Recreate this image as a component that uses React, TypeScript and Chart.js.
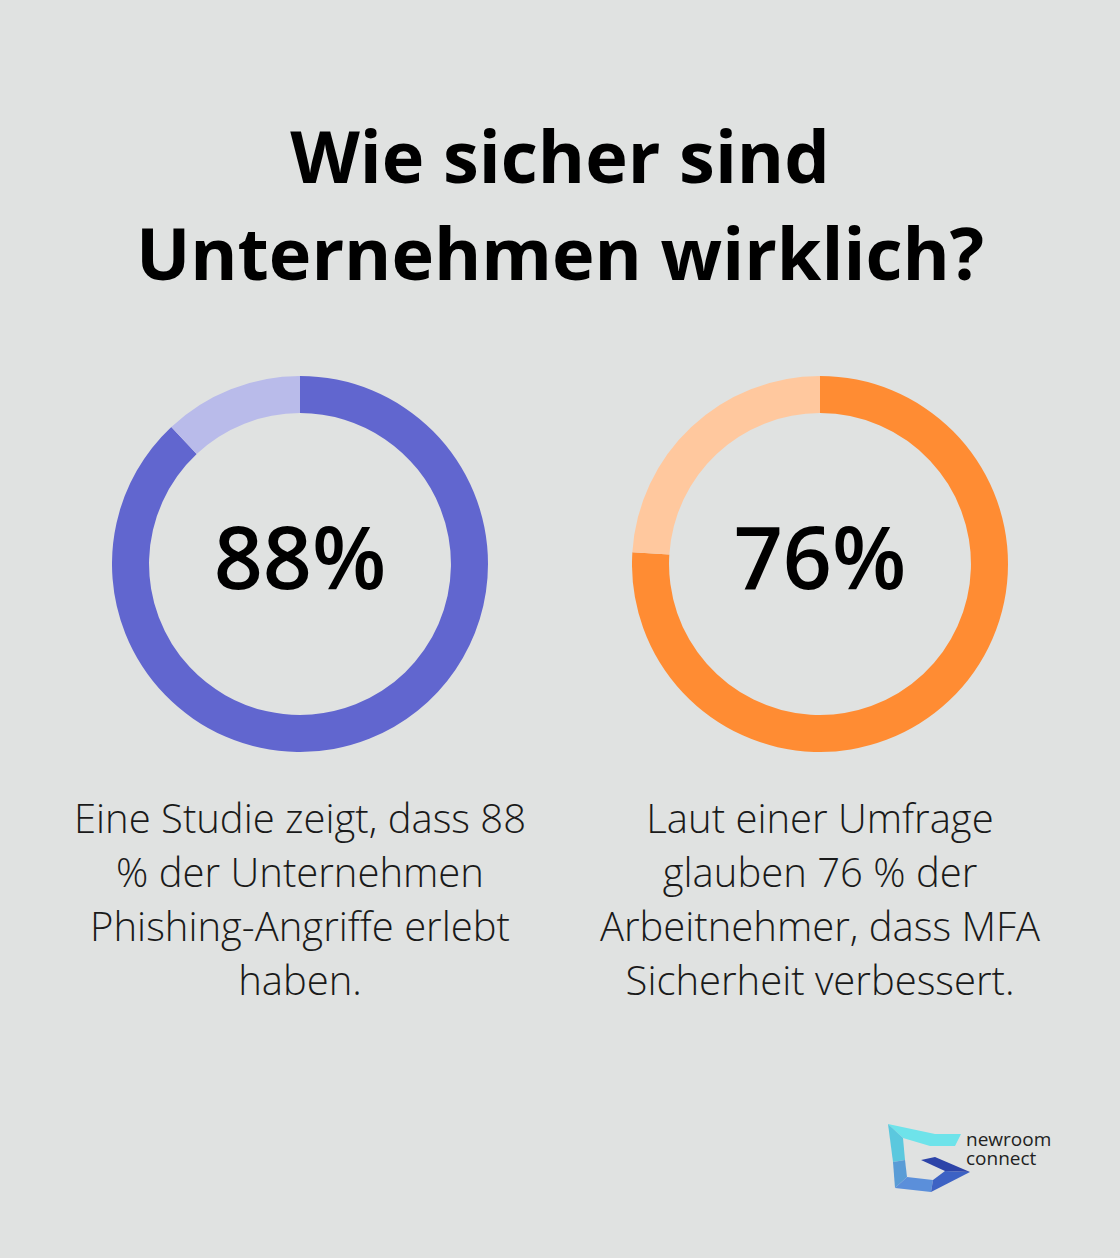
import React, { useEffect, useRef } from "react";
import { Chart, registerables } from "chart.js";

Chart.register(...registerables);

const TITLE_LINES = ["Wie sicher sind", "Unternehmen wirklich?"];
const CHART_LABELS = ["Ja", "Nein"];
const VALUES_A = [88, 12];
const VALUES_B = [76, 24];
const COLORS_A = ["#6166CF", "#B9BBEA"];
const COLORS_B = ["#FF8C33", "#FFC89E"];
const CENTER_A = "88%";
const CENTER_B = "76%";
const TEXT_A = ["Eine Studie zeigt, dass 88", "% der Unternehmen", "Phishing-Angriffe erlebt", "haben."];
const TEXT_B = ["Laut einer Umfrage", "glauben 76 % der", "Arbeitnehmer, dass MFA", "Sicherheit verbessert."];

const BG = "#E0E2E1";
const FONT = "'Open Sans', 'Noto Sans', sans-serif";

function Donut({ values, colors, cx, cy, center, lines }: { values: number[]; colors: string[]; cx: number; cy: number; center: string; lines: string[] }) {
  const ref = useRef<HTMLCanvasElement | null>(null);
  useEffect(() => {
    if (!ref.current) return;
    const chart = new Chart(ref.current, {
      type: "doughnut",
      data: {
        labels: CHART_LABELS,
        datasets: [{ data: values, backgroundColor: colors, borderWidth: 0, hoverOffset: 0 }],
      },
      options: {
        animation: false,
        responsive: false,
        cutout: "80.3%",
        layout: { padding: 0 },
        plugins: { legend: { display: false }, tooltip: { enabled: false } },
      },
    });
    return () => chart.destroy();
  }, []);
  const R = 188;
  return (
    <>
      <div style={{ position: "absolute", left: cx - R, top: cy - R, width: 2 * R, height: 2 * R }}>
        <canvas ref={ref} width={2 * R} height={2 * R} style={{ width: 2 * R, height: 2 * R }} />
      </div>
      <div style={{ position: "absolute", left: cx - 150, top: cy - 68, width: 300, height: 120, display: "flex", alignItems: "center", justifyContent: "center", fontFamily: FONT, fontWeight: 600, fontSize: 86, color: "#000", lineHeight: 1 }}>
        {center}
      </div>
      <div style={{ position: "absolute", left: cx - 270, top: 791, width: 540, textAlign: "center", fontFamily: FONT, fontWeight: 300, fontSize: 40, lineHeight: "54px", color: "#1a1a1a" }}>
        {lines.map((l, i) => (
          <div key={i}>{l}</div>
        ))}
      </div>
    </>
  );
}

export default function App() {
  return (
    <div style={{ position: "absolute", left: 0, top: 0, width: 1120, height: 1258, background: BG, overflow: "hidden" }}>
      <div style={{ position: "absolute", left: 0, top: 107, width: 1120, textAlign: "center", fontFamily: FONT, fontWeight: 700, fontSize: 72, lineHeight: "97px", color: "#000" }}>
        {TITLE_LINES.map((l, i) => (
          <div key={i}>{l}</div>
        ))}
      </div>
      <Donut values={VALUES_A} colors={COLORS_A} cx={300} cy={564} center={CENTER_A} lines={TEXT_A} />
      <Donut values={VALUES_B} colors={COLORS_B} cx={820} cy={564} center={CENTER_B} lines={TEXT_B} />
      <svg style={{ position: "absolute", left: 885, top: 1120 }} width={90} height={75} viewBox="0 0 90 75">
        <polygon points="3,4 50,14 76,14 70,26 45,26 18,18" fill="#6EE3EA" />
        <polygon points="3,4 18,18 20,40 8,42" fill="#5BC8DE" />
        <polygon points="8,42 20,40 22,57 10,68" fill="#5A9CD6" />
        <polygon points="10,68 22,57 48,60 46,72" fill="#5B8FDA" />
        <polygon points="48,60 60,51 85,52 46,72" fill="#3D62C4" />
        <polygon points="36,40 50,37 85,52 60,51" fill="#2D44A8" />
      </svg>
      <div style={{ position: "absolute", left: 966, top: 1130, fontFamily: "'Open Sans', sans-serif", fontWeight: 400, fontSize: 19, lineHeight: "19px", color: "#222" }}>
        newroom<br />connect
      </div>
    </div>
  );
}
